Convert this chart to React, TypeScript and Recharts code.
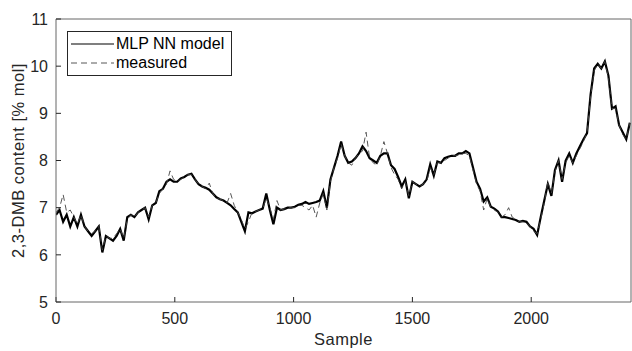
import React from "react";
import {
  LineChart,
  Line,
  XAxis,
  YAxis,
  Legend,
} from "recharts";

// sample index step between read-off points
const SAMPLE_STEP = 15;

const modelValues = [
  6.85, 6.95, 6.7, 6.85, 6.6, 6.8, 6.6, 6.85, 6.6, 6.5,
  6.4, 6.5, 6.6, 6.05, 6.4, 6.35, 6.3, 6.4, 6.55, 6.3,
  6.8, 6.85, 6.8, 6.9, 6.95, 7.0, 6.75, 7.05, 7.1, 7.35,
  7.4, 7.55, 7.6, 7.55, 7.55, 7.62, 7.65, 7.7, 7.72, 7.6,
  7.5, 7.45, 7.42, 7.38, 7.3, 7.22, 7.18, 7.15, 7.1, 7.05,
  6.97, 6.9, 6.7, 6.5, 6.9, 6.88, 6.92, 6.95, 6.98, 7.3,
  6.95, 6.65, 7.0, 6.95, 6.97, 7.0, 7.0, 7.02, 7.06, 7.08,
  7.12, 7.08, 7.1, 7.12, 7.15, 7.35, 7.0, 7.6, 7.85, 8.1,
  8.4, 8.1, 7.95, 7.98, 8.05, 8.15, 8.3, 8.2, 8.05, 8.0,
  7.95, 8.1, 8.15, 8.15, 7.9, 7.82, 7.65, 7.45, 7.6, 7.2,
  7.55, 7.5, 7.45, 7.5, 7.6, 7.92, 7.68, 7.98, 7.95, 8.05,
  8.08, 8.1, 8.1, 8.15, 8.15, 8.2, 8.15, 7.85, 7.55, 7.4,
  7.13, 7.22, 7.02, 6.98, 6.92, 6.8, 6.8, 6.78, 6.76, 6.74,
  6.7, 6.72, 6.7, 6.6, 6.55, 6.42, 6.8, 7.15, 7.5, 7.25,
  7.8, 8.0, 7.55, 8.0, 8.15, 7.95, 8.15, 8.3, 8.45, 8.58,
  9.4, 9.95, 10.05, 9.95, 10.1, 9.8, 9.1, 9.15, 8.75, 8.6,
  8.45, 8.8,
];

const measuredValues = [
  6.9, 7.0, 7.28, 6.9, 6.95, 6.8, 6.65, 6.85, 6.6, 6.5,
  6.45, 6.5, 6.6, 6.1, 6.4, 6.35, 6.35, 6.45, 6.55, 6.35,
  6.75, 6.85, 6.8, 6.9, 6.95, 7.0, 6.8, 7.05, 7.1, 7.3,
  7.4, 7.5, 7.78, 7.6, 7.55, 7.6, 7.65, 7.7, 7.7, 7.6,
  7.5, 7.45, 7.4, 7.52, 7.3, 7.2, 7.18, 7.15, 7.1, 7.3,
  7.05, 6.9, 6.75, 6.55, 6.7, 6.9, 6.92, 6.95, 6.98, 7.2,
  7.0, 6.75, 7.15, 6.95, 6.97, 7.0, 7.0, 7.0, 7.05, 7.05,
  7.0, 6.95, 7.05, 6.8, 7.1, 7.3, 6.95, 7.55, 7.85, 8.05,
  8.35, 8.1, 7.95, 7.9, 8.05, 8.15, 8.2, 8.6, 8.05, 7.95,
  7.9, 8.1, 8.4, 8.15, 7.85, 7.7, 7.6, 7.4, 7.55, 7.25,
  7.55, 7.5, 7.45, 7.5, 7.55, 7.85, 7.7, 7.95, 7.95, 8.0,
  8.05, 8.1, 8.1, 8.12, 8.15, 8.15, 8.1, 7.8, 7.5, 7.35,
  6.95, 7.2, 7.0, 6.95, 6.9, 6.8, 6.85, 7.0, 6.8, 6.75,
  6.7, 6.7, 6.68, 6.6, 6.5, 6.45, 6.75, 7.1, 7.55, 7.3,
  7.75, 8.0, 7.6, 7.95, 8.1, 7.95, 8.1, 8.25, 8.4, 8.6,
  9.35, 9.9, 10.05, 9.95, 10.1, 9.75, 9.1, 9.1, 8.75, 8.55,
  8.45, 8.8,
];

const xTicks = [0, 500, 1000, 1500, 2000];
const yTicks = [5, 6, 7, 8, 9, 10, 11];

const data = modelValues.map((v, i) => ({
  sample: i * SAMPLE_STEP,
  model: v,
  measured: measuredValues[i],
}));

const FONT = "'Liberation Sans', Arial, Helvetica, sans-serif";
const TEXT = "#262626";
const AXIS = "#666";

const tickStyle = { fill: TEXT, fontSize: 16, fontFamily: FONT };
const labelStyle = { fill: TEXT, fontSize: 16.5, fontFamily: FONT, letterSpacing: 0.5 };

const LegendBox = () => (
  <div
    style={{
      border: `1px solid ${TEXT}`,
      background: "#fff",
      fontFamily: FONT,
      fontSize: 16,
      color: "#000",
      padding: "2px 4px 3px 3px",
      lineHeight: "19px",
    }}
  >
    <div style={{ display: "flex", alignItems: "center" }}>
      <svg width={43} height={10} style={{ marginRight: 2 }}>
        <line x1={0} y1={5} x2={43} y2={5} stroke="#000" strokeWidth={1.2} />
      </svg>
      <span>MLP NN model</span>
    </div>
    <div style={{ display: "flex", alignItems: "center" }}>
      <svg width={43} height={10} style={{ marginRight: 2 }}>
        <line
          x1={0}
          y1={5}
          x2={43}
          y2={5}
          stroke="#444"
          strokeWidth={0.9}
          strokeDasharray="6 4"
        />
      </svg>
      <span>measured</span>
    </div>
  </div>
);

export default function App() {
  return (
    <div
      style={{
        position: "absolute",
        left: 0,
        top: 0,
        width: 632,
        height: 351,
        background: "#fff",
      }}
    >
      <LineChart
        width={632}
        height={351}
        data={data}
        margin={{ top: 18, right: 0, bottom: 0, left: 0 }}
      >
        <XAxis
          xAxisId="b"
          dataKey="sample"
          type="number"
          domain={[0, 2420]}
          ticks={xTicks}
          allowDataOverflow
          height={49}
          tickSize={-5}
          tickMargin={16}
          tick={tickStyle}
          stroke={AXIS}
          tickLine={{ stroke: TEXT }}
          label={{
            value: "Sample",
            position: "insideBottom",
            offset: 6,
            style: labelStyle,
          }}
        />
        <XAxis
          xAxisId="t"
          dataKey="sample"
          type="number"
          orientation="top"
          domain={[0, 2420]}
          ticks={xTicks}
          allowDataOverflow
          height={1}
          tickSize={-5}
          tick={false}
          stroke={AXIS}
          tickLine={{ stroke: TEXT }}
        />
        <YAxis
          yAxisId="l"
          type="number"
          domain={[5, 11]}
          ticks={yTicks}
          allowDataOverflow
          width={56}
          tickSize={-5}
          tickMargin={13}
          tick={tickStyle}
          stroke={AXIS}
          tickLine={{ stroke: TEXT }}
          label={{
            value: "2,3-DMB content [% mol]",
            angle: -90,
            position: "insideLeft",
            offset: 18,
            style: { ...labelStyle, textAnchor: "middle" },
          }}
        />
        <YAxis
          yAxisId="r"
          orientation="right"
          type="number"
          domain={[5, 11]}
          ticks={yTicks}
          allowDataOverflow
          width={1}
          tickSize={-5}
          tick={false}
          stroke={AXIS}
          tickLine={{ stroke: TEXT }}
        />
        <Legend
          layout="vertical"
          align="center"
          verticalAlign="middle"
          wrapperStyle={{ left: 67, top: 31, width: 165, height: "auto" }}
          content={() => <LegendBox />}
        />
        <Line
          xAxisId="b"
          yAxisId="l"
          dataKey="model"
          name="MLP NN model"
          stroke="#000"
          strokeWidth={2.2}
          dot={false}
          isAnimationActive={false}
        />
        <Line
          xAxisId="b"
          yAxisId="l"
          dataKey="measured"
          name="measured"
          stroke="#444"
          strokeWidth={0.9}
          strokeDasharray="6 4"
          dot={false}
          isAnimationActive={false}
        />
      </LineChart>
    </div>
  );
}
